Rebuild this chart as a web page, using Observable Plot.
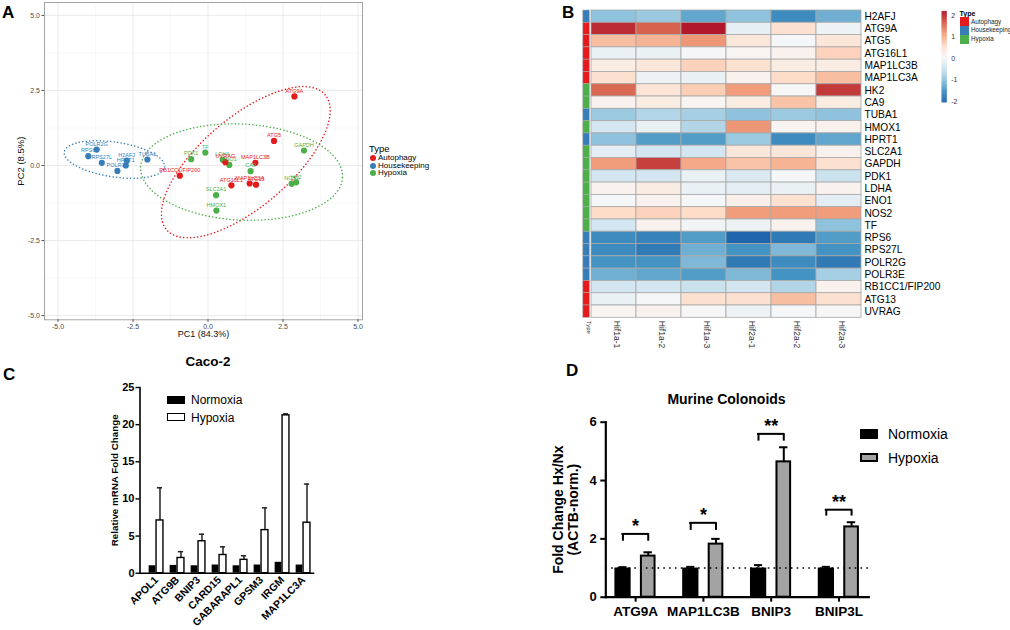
<!DOCTYPE html>
<html><head><meta charset="utf-8">
<script src="https://cdn.jsdelivr.net/npm/d3@7"></script>
<script src="https://cdn.jsdelivr.net/npm/@observablehq/plot@0.6"></script>
<style>
body{margin:0;background:#fff;font-family:"Liberation Sans",Arial,Helvetica,sans-serif;}
#root{position:relative;width:1010px;height:630px;overflow:hidden;background:#fff;}
#root svg{position:absolute;overflow:visible;}
.t{position:absolute;white-space:nowrap;line-height:1;}
.letter{position:absolute;font-weight:bold;font-size:17px;line-height:1;}
.sw{position:absolute;box-sizing:border-box;}
</style></head><body><div id="root"></div>
<script>
const FONT = "'Liberation Sans', Arial, Helvetica, sans-serif";
const types = ["Autophagy", "Housekeeping", "Hypoxia"];
const typeColors = ["#E41A1C", "#377EB8", "#4DAF4A"];

// ---------- Panel A: PCA ----------
const pcaGenes = ["POLR2G","RPS6","RPS27L","H2AFJ","HPRT1","POLR3E","TUBA1",
  "PDK1","TF","LDHA","ENO1","CA9","GAPDH","NOS2","HK2","SLC2A1","HMOX1",
  "ATG9A","ATG5","MAP1LC3B","UVRAG","RB1CC1/FIP200","ATG16L1","MAP1LC3A","ATG13"];
const pcaTypes = ["Housekeeping","Housekeeping","Housekeeping","Housekeeping","Housekeeping","Housekeeping","Housekeeping",
  "Hypoxia","Hypoxia","Hypoxia","Hypoxia","Hypoxia","Hypoxia","Hypoxia","Hypoxia","Hypoxia","Hypoxia",
  "Autophagy","Autophagy","Autophagy","Autophagy","Autophagy","Autophagy","Autophagy","Autophagy"];
const pc1 = [-3.71,-3.99,-3.54,-2.71,-2.74,-3.02,-2.02,
  -0.56,-0.09,0.49,0.71,1.42,3.20,2.79,2.94,0.27,0.28,
  2.88,2.20,1.58,0.58,-0.94,0.78,1.39,1.60];
const pc2 = [0.53,0.31,0.09,0.16,0.00,-0.18,0.20,
  0.21,0.43,0.19,0.02,-0.19,0.50,-0.61,-0.56,-0.99,-1.50,
  2.30,0.82,0.09,0.11,-0.34,-0.66,-0.60,-0.64];
// 95% ellipses (centre, semi-axes, angle in degrees)
const ellTypes = ["Autophagy", "Housekeeping", "Hypoxia"];
const ellCx = [1.26, -3.12, 1.12];
const ellCy = [0.11, 0.20, -0.22];
const ellA = [3.47, 1.69, 3.37];
const ellB = [1.49, 0.58, 1.60];
const ellAngle = [40.4, -8.5, -3];
const pcaTicks = [-5, -2.5, 0, 2.5, 5];
const pcaMinor = [-3.75, -1.25, 1.25, 3.75];

// ---------- Panel B: heatmap ----------
const hmGenes = ["H2AFJ","ATG9A","ATG5","ATG16L1","MAP1LC3B","MAP1LC3A","HK2","CA9","TUBA1","HMOX1",
  "HPRT1","SLC2A1","GAPDH","PDK1","LDHA","ENO1","NOS2","TF","RPS6","RPS27L","POLR2G","POLR3E",
  "RB1CC1/FIP200","ATG13","UVRAG"];
const hmTypes = ["Housekeeping","Autophagy","Autophagy","Autophagy","Autophagy","Autophagy","Hypoxia","Hypoxia",
  "Housekeeping","Hypoxia","Housekeeping","Hypoxia","Hypoxia","Hypoxia","Hypoxia","Hypoxia","Hypoxia","Hypoxia",
  "Housekeeping","Housekeeping","Housekeeping","Housekeeping","Autophagy","Autophagy","Autophagy"];
const hmSamples = ["Hif1a-1","Hif1a-2","Hif1a-3","Hif2a-1","Hif2a-2","Hif2a-3"];
const hif1a1 = [-1.0,2.05,0.9,-0.1,0.3,0.5,1.6,0.2,-0.9,-0.4,-1.0,-0.2,1.2,-0.4,0.2,0.05,0.6,-0.4,-1.6,-1.6,-1.5,-1.2,-0.4,-0.1,0.15];
const hif1a2 = [-0.9,1.65,1.0,-0.1,0.4,-0.05,0.45,0.3,-0.7,-0.1,-1.4,-0.4,1.9,-0.4,0.3,0.2,0.7,0.2,-1.7,-1.8,-1.5,-1.3,-0.4,0.05,0.2];
const hif1a3 = [-1.3,2.2,1.25,0.05,0.7,-0.1,0.75,0.15,-0.8,-0.7,-1.4,-0.4,1.1,-0.1,-0.1,0.05,0.6,0.0,-1.4,-1.2,-1.1,-1.4,-0.5,0.5,0.1];
const hif2a1 = [-1.0,-0.15,0.4,0.15,0.5,0.2,1.2,0.3,-1.0,1.25,-0.9,0.4,0.85,-0.3,-0.2,0.25,1.2,-0.05,-2.03,-1.5,-1.8,-1.1,-0.4,0.5,-0.05];
const hif2a2 = [-1.6,0.5,0.05,0.2,0.3,0.6,0.1,0.85,-0.9,0.15,-1.6,0.4,1.0,0.05,-0.1,0.5,1.2,0.2,-1.8,-1.1,-1.6,-1.5,-0.7,0.9,0.05];
const hif2a3 = [-1.2,-0.05,0.4,0.7,0.3,0.9,1.95,0.3,-1.0,0.2,-1.3,0.2,0.5,-0.5,0.2,-0.2,1.2,-1.0,-1.4,-1.5,-1.8,-0.8,0.2,0.5,0.1];
const hmLegendTicks = [-2, -1, 0, 1, 2];
const rdbu9 = ["#2166AC","#4393C3","#92C5DE","#D1E5F0","#F7F7F7","#FDDBC7","#F4A582","#D6604D","#B2182B"];

// ---------- Panel C: Caco-2 ----------
const cGenes = ["APOL1","ATG9B","BNIP3","CARD15","GABARAPL1","GPSM3","IRGM","MAP1LC3A"];
const cNormoxia = [1.0,1.05,1.0,1.1,1.0,1.1,1.47,1.1];
const cHypoxia = [7.1,2.05,4.3,2.45,1.8,5.8,21.25,6.8];
const cHypoxiaErr = [11.5,2.9,5.25,3.55,2.35,8.8,21.45,12.0];
const cTicks = [0,5,10,15,20,25];

// ---------- Panel D: Murine colonoids ----------
const dGenes = ["ATG9A","MAP1LC3B","BNIP3","BNIP3L"];
const dNormoxia = [1.0,1.0,1.0,1.0];
const dNormoxiaErr = [1.03,1.04,1.1,1.04];
const dHypoxia = [1.41,1.82,4.64,2.41];
const dHypoxiaErr = [1.54,2.0,5.14,2.57];
const dSignif = ["*","*","**","**"];
const dBracketY = [2.17,2.55,5.6,3.0];
const dBracketLeg = [1.92,2.29,5.35,2.78];
const dTicks = [0,2,4,6];

const root = document.getElementById("root");
function place(svg, left, top){ svg.style.left = left + "px"; svg.style.top = top + "px"; root.appendChild(svg); }
function txt(s, x, y, css, anchor){
  const d = document.createElement("div"); d.className = "t"; d.textContent = s;
  d.style.left = x + "px"; d.style.top = y + "px";
  d.style.transform = anchor === "start" ? "translate(0,-50%)" : "translate(-50%,-50%)";
  Object.assign(d.style, css || {}); root.appendChild(d); return d;
}
function box(x, y, w, h, css){
  const d = document.createElement("div"); d.className = "sw";
  Object.assign(d.style, {left: x + "px", top: y + "px", width: w + "px", height: h + "px"}, css);
  root.appendChild(d);
}
function letter(s, x, y){ const d = document.createElement("div"); d.className = "letter"; d.textContent = s; d.style.left = x + "px"; d.style.top = y + "px"; root.appendChild(d); }

// ===== Panel A =====
const pca = pcaGenes.map((g, i) => ({gene: g, type: pcaTypes[i], pc1: pc1[i], pc2: pc2[i]}));
const ellPts = [];
ellTypes.forEach((t, k) => {
  const th = ellAngle[k] * Math.PI / 180;
  for (let i = 0; i <= 160; i++) {
    const u = 2 * Math.PI * i / 160;
    ellPts.push({type: t,
      x: ellCx[k] + ellA[k] * Math.cos(u) * Math.cos(th) - ellB[k] * Math.sin(u) * Math.sin(th),
      y: ellCy[k] + ellA[k] * Math.cos(u) * Math.sin(th) + ellB[k] * Math.sin(u) * Math.cos(th)});
  }
});
const pA = Plot.plot({
  width: 560, height: 345, marginLeft: 44, marginRight: 198, marginTop: 2, marginBottom: 25.7,
  x: {domain: [-5.45, 5.15]}, y: {domain: [-5.14, 5.43]},
  color: {domain: types, range: typeColors},
  style: {fontFamily: FONT, background: "transparent", overflow: "visible"},
  marks: [
    Plot.ruleX(pcaMinor, {stroke: "#f4f4f4", strokeWidth: 0.6}),
    Plot.ruleY(pcaMinor, {stroke: "#f4f4f4", strokeWidth: 0.6}),
    Plot.ruleX(pcaTicks, {stroke: "#e9e9e9", strokeWidth: 0.9}),
    Plot.ruleY(pcaTicks, {stroke: "#e9e9e9", strokeWidth: 0.9}),
    Plot.line(ellPts, {x: "x", y: "y", z: "type", stroke: "type", strokeWidth: 1.5, strokeDasharray: "0.1,3.4", strokeLinecap: "round", curve: "linear"}),
    Plot.dot(pca, {x: "pc1", y: "pc2", fill: "type", r: 3.1}),
    Plot.text(pca, {x: "pc1", y: "pc2", text: "gene", fill: "type", dy: -5.5, fontSize: 5.5}),
    Plot.frame({stroke: "#9a9a9a", strokeWidth: 0.9}),
    Plot.axisX({ticks: pcaTicks, tickFormat: d => d.toFixed(1), tickSize: 2.5, tickPadding: 1.5, fontSize: 7, color: "#4d4d4d", label: null}),
    Plot.axisY({ticks: pcaTicks, tickFormat: d => d.toFixed(1), tickSize: 2.5, tickPadding: 2, fontSize: 7, color: "#4d4d4d", label: null}),
    Plot.text(["PC1 (84.3%)"], {frameAnchor: "bottom", dy: 17.5, fontSize: 9, fill: "#111"}),
    Plot.text(["PC2 (8.5%)"], {frameAnchor: "left", textAnchor: "middle", dx: -24, rotate: -90, fontSize: 9.5, fill: "#111"})
  ]
});
place(pA, 0, 0);
txt("Type", 369, 149, {fontSize: "9.5px"}, "start");
types.forEach((t, i) => {
  box(370, 155 + i * 7.5, 6.4, 6.4, {background: typeColors[i], borderRadius: "50%"});
  txt(t, 378, 158.3 + i * 7.5, {fontSize: "8px"}, "start");
});

// ===== Panel B =====
const hmCols = [hif1a1, hif1a2, hif1a3, hif2a1, hif2a2, hif2a3];
const hm = [];
hmGenes.forEach((g, i) => hmSamples.forEach((s, j) => hm.push({gene: g, sample: s, value: hmCols[j][i]})));
const allVals = hmCols.flat();
const dmin = d3.min(allVals), dmax = d3.max(allVals);
const stops = rdbu9.map((_, i) => dmin + (dmax - dmin) * i / (rdbu9.length - 1));
const hmColor = {type: "linear", domain: stops, range: rdbu9, interpolate: "rgb"};
const pB = Plot.plot({
  width: 450, height: 370, marginLeft: 31, marginRight: 149, marginTop: 10, marginBottom: 52.7,
  x: {domain: hmSamples, padding: 0, round: false, axis: null},
  y: {domain: hmGenes, padding: 0, round: false, axis: null},
  color: hmColor,
  style: {fontFamily: FONT, background: "transparent", overflow: "visible"},
  marks: [
    Plot.cell(hm, {x: "sample", y: "gene", fill: "value", stroke: "#a8a8a8", strokeWidth: 0.8}),
    Plot.text(hmGenes, {y: d => d, frameAnchor: "right", textAnchor: "start", dx: 3, fontSize: 10.2, fill: "#000"}),
    Plot.text(hmSamples, {x: d => d, frameAnchor: "bottom", rotate: 90, textAnchor: "start", dy: 3, fontSize: 8.5, fill: "#333"})
  ]
});
place(pB, 560, 0);
const ann = hmGenes.map((g, i) => ({gene: g, type: hmTypes[i]}));
const pBann = Plot.plot({
  width: 40, height: 370, marginLeft: 22.8, marginRight: 10.7, marginTop: 10, marginBottom: 52.7,
  x: {axis: null}, y: {domain: hmGenes, padding: 0, round: false, axis: null},
  color: {domain: types, range: typeColors},
  style: {fontFamily: FONT, background: "transparent", overflow: "visible"},
  marks: [
    Plot.cell(ann, {y: "gene", fill: "type", stroke: "#a8a8a8", strokeWidth: 0.6}),
    Plot.text(["Type"], {frameAnchor: "bottom", rotate: 90, textAnchor: "start", dy: 3, fontSize: 6, fill: "#333"})
  ]
});
place(pBann, 560, 0);
const ramp = d3.range(0, 240).map(i => dmin + (dmax - dmin) * (i + 0.5) / 240);
const pBleg = Plot.plot({
  width: 40, height: 110, marginLeft: 6.7, marginRight: 28.3, marginTop: 10.7, marginBottom: 8.3,
  x: {axis: null}, y: {domain: [dmin, dmax], axis: null},
  color: hmColor,
  style: {fontFamily: FONT, background: "transparent", overflow: "visible"},
  marks: [
    Plot.ruleY(ramp, {y: d => d, stroke: d => d, strokeWidth: 0.8}),
    Plot.axisY({anchor: "right", ticks: hmLegendTicks, tickFormat: d => String(d), tickSize: 0, tickPadding: 4, fontSize: 7, color: "#333", label: null})
  ]
});
place(pBleg, 935, 0);
txt("Type", 959.5, 12.5, {fontSize: "7px", fontWeight: "bold"}, "start");
types.forEach((t, i) => {
  box(959.7, 17 + i * 9, 9.6, 9, {background: typeColors[i]});
  txt(t, 971, 21.7 + i * 8.7, {fontSize: "6.3px", color: "#222"}, "start");
});

// ===== Panel C =====
const cRows = cGenes.map((g, i) => ({gene: g, nx: cNormoxia[i], hx: cHypoxia[i], err: cHypoxiaErr[i]}));
const pC = Plot.plot({
  width: 330, height: 285, marginLeft: 139.5, marginRight: 17, marginTop: 42, marginBottom: 57.3,
  x: {domain: cGenes, paddingInner: 0.3, paddingOuter: 0.281, align: 0.775, round: false, axis: null},
  y: {domain: [0, 25], axis: null},
  style: {fontFamily: FONT, background: "transparent", overflow: "visible"},
  marks: [
    Plot.barY(cRows, {x: "gene", y: "nx", fill: "#000", insetRight: 8}),
    Plot.ruleX(cRows, {x: "gene", y1: "hx", y2: "err", dx: 3.5, strokeWidth: 1.5, stroke: "#222"}),
    Plot.tickY(cRows, {x: "gene", y: "err", insetLeft: 8.25, insetRight: 1.25, strokeWidth: 1.5, stroke: "#222"}),
    Plot.barY(cRows, {x: "gene", y: "hx", fill: "#fff", stroke: "#000", strokeWidth: 1.4, insetLeft: 7.4, insetRight: 0.4}),
    Plot.frame({anchor: "left", strokeWidth: 1.6}),
    Plot.frame({anchor: "bottom", strokeWidth: 1.6}),
    Plot.axisY({ticks: cTicks, tickSize: 4, tickPadding: 1.5, fontSize: 11, fontWeight: "bold", strokeWidth: 1.4, label: null}),
    Plot.axisX({tickRotate: -45, tickSize: 0, tickPadding: 5, fontSize: 10.5, fontWeight: "bold", label: null}),
    Plot.text(["Relative mRNA Fold Change"], {frameAnchor: "left", textAnchor: "middle", dx: -25, rotate: -90, fontSize: 9.8, fontWeight: "bold"})
  ]
});
place(pC, 0, 345);
txt("Caco-2", 208, 362, {fontSize: "13.5px", fontWeight: "bold"});
box(167, 396, 17.5, 7.5, {background: "#000"});
txt("Normoxia", 191, 400, {fontSize: "12px"}, "start");
box(167, 413, 17.5, 7.5, {background: "#fff", border: "1.3px solid #000"});
txt("Hypoxia", 191, 417.5, {fontSize: "12px"}, "start");

// ===== Panel D =====
const dRows = dGenes.map((g, i) => ({gene: g, nx: dNormoxia[i], nxErr: dNormoxiaErr[i], hx: dHypoxia[i], hxErr: dHypoxiaErr[i],
  sig: dSignif[i], br: dBracketY[i], leg: dBracketLeg[i]}));
const pD = Plot.plot({
  width: 480, height: 300, marginLeft: 75.3, marginRight: 141.7, marginTop: 91.7, marginBottom: 33.3,
  x: {domain: dGenes, paddingInner: 0.3, paddingOuter: 0.09, round: false, axis: null},
  y: {domain: [0, 6], axis: null},
  style: {fontFamily: FONT, background: "transparent", overflow: "visible"},
  marks: [
    Plot.ruleX(dRows, {x: "gene", y1: "nx", y2: "nxErr", dx: -12.7, strokeWidth: 2}),
    Plot.tickY(dRows, {x: "gene", y: "nxErr", insetLeft: 7, insetRight: 32.3, strokeWidth: 2}),
    Plot.ruleX(dRows, {x: "gene", y1: "hx", y2: "hxErr", dx: 12.6, strokeWidth: 2}),
    Plot.tickY(dRows, {x: "gene", y: "hxErr", insetLeft: 32, insetRight: 7, strokeWidth: 2}),
    Plot.barY(dRows, {x: "gene", y: "nx", fill: "#000", insetLeft: 3, insetRight: 28.2}),
    Plot.barY(dRows, {x: "gene", y: "hx", fill: "#a3a3a3", stroke: "#000", strokeWidth: 2, insetLeft: 29.5, insetRight: 4.3}),
    Plot.ruleY([1], {strokeDasharray: "1.6,4.2", strokeWidth: 1.6, stroke: "#000"}),
    Plot.tickY(dRows, {x: "gene", y: "br", insetLeft: 10, insetRight: 10.1, strokeWidth: 2}),
    Plot.ruleX(dRows, {x: "gene", y1: "leg", y2: "br", dx: -12.7, strokeWidth: 2}),
    Plot.ruleX(dRows, {x: "gene", y1: "leg", y2: "br", dx: 12.6, strokeWidth: 2}),
    Plot.text(dRows, {x: "gene", y: "br", text: "sig", lineAnchor: "bottom", dy: -2, fontSize: 18, fontWeight: "bold"}),
    Plot.frame({anchor: "left", strokeWidth: 2.2}),
    Plot.frame({anchor: "bottom", strokeWidth: 2.2}),
    Plot.axisY({ticks: dTicks, tickFormat: d => String(d), tickSize: 5, tickPadding: 4, fontSize: 13, fontWeight: "bold", strokeWidth: 2, label: null}),
    Plot.axisX({tickSize: 5, tickPadding: 4, fontSize: 13.5, fontWeight: "bold", strokeWidth: 2, label: null}),
    Plot.text(["Fold Change Hx/Nx"], {frameAnchor: "left", textAnchor: "middle", dx: -47, rotate: -90, fontSize: 14, fontWeight: "bold"}),
    Plot.text(["(ACTB-norm.)"], {frameAnchor: "left", textAnchor: "middle", dx: -32, rotate: -90, fontSize: 14, fontWeight: "bold"})
  ]
});
place(pD, 530, 330);
txt("Murine Colonoids", 726.5, 399, {fontSize: "14px", fontWeight: "bold"});
box(859.5, 429, 18.5, 9.5, {background: "#000"});
txt("Normoxia", 888, 433.5, {fontSize: "14px"}, "start");
box(859.5, 452.5, 18.5, 9.5, {background: "#a3a3a3", border: "2px solid #000"});
txt("Hypoxia", 888, 457.5, {fontSize: "14px"}, "start");

letter("A", 2, 4);
letter("B", 562, 4);
letter("C", 3, 366);
letter("D", 566, 362);
</script></body></html>
